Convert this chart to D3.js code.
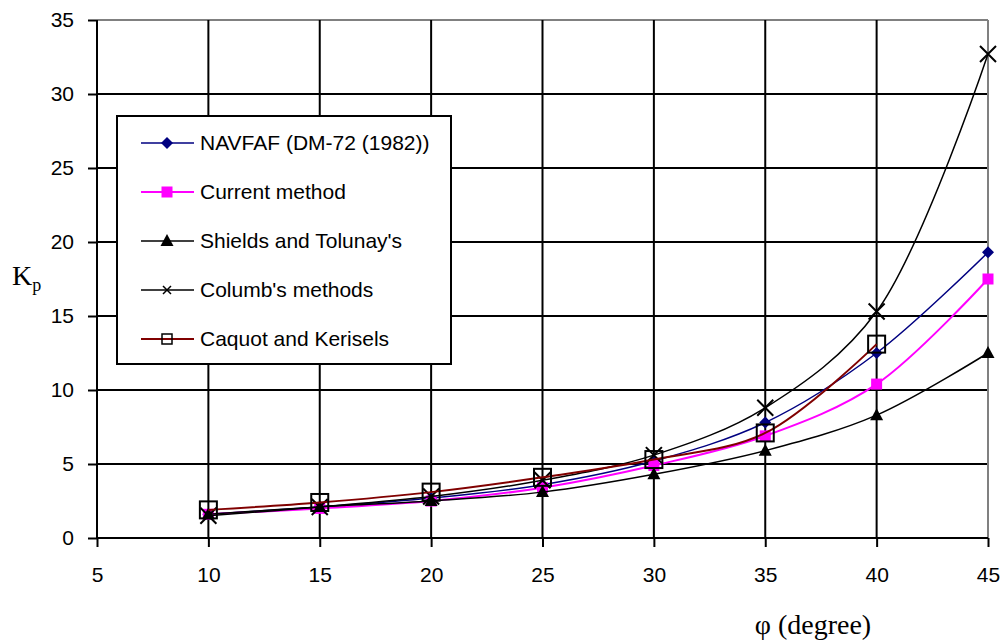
<!DOCTYPE html>
<html>
<head>
<meta charset="utf-8">
<script src="https://cdn.jsdelivr.net/npm/d3@7"></script>
<style>
  body { margin: 0; background: #fff; }
  svg { display: block; }
  text { font-family: "Liberation Sans", Arial, sans-serif; }
</style>
</head>
<body>
<svg id="chart" width="1004" height="643"></svg>
<script>
// chart data
var phi = [10, 15, 20, 25, 30, 35, 40, 45];
var navfac = [1.6, 2.1, 2.7, 3.6, 5.2, 7.8, 12.5, 19.3];
var current = [1.6, 2.0, 2.5, 3.4, 4.9, 6.9, 10.4, 17.5];
var shields = [1.6, 2.1, 2.5, 3.1, 4.3, 5.9, 8.3, 12.5];
var columb = [1.5, 2.1, 2.8, 3.9, 5.6, 8.8, 15.3, 32.7];
var caquot = [1.9, 2.4, 3.1, 4.1, 5.3, 7.1, 13.1];
var xTicks = [5, 10, 15, 20, 25, 30, 35, 40, 45];
var yTicks = [0, 5, 10, 15, 20, 25, 30, 35];

var series = [
  { name: "NAVFAF (DM-72 (1982))", values: navfac, color: "#000080", width: 1.5, marker: "diamond" },
  { name: "Current method", values: current, color: "#ff00ff", width: 2, marker: "square" },
  { name: "Shields and Tolunay's", values: shields, color: "#000000", width: 1.5, marker: "triangle" },
  { name: "Columb's methods", values: columb, color: "#000000", width: 1.5, marker: "cross" },
  { name: "Caquot and Kerisels", values: caquot, color: "#800000", width: 2, marker: "open" }
];

var svg = d3.select("#chart");
var plotLeft = 97, plotRight = 988, plotTop = 20, plotBottom = 538;

var x = d3.scaleLinear().domain([5, 45]).range([plotLeft, plotRight]);
var y = d3.scaleLinear().domain([0, 35]).range([plotBottom, plotTop]);

// grid lines
var grid = svg.append("g").attr("class", "grid");
grid.selectAll("line.h")
  .data(yTicks.filter(function (d) { return d > 0; }))
  .enter().append("line")
  .attr("x1", plotLeft).attr("x2", plotRight)
  .attr("y1", function (d) { return y(d); })
  .attr("y2", function (d) { return y(d); })
  .attr("stroke", function (d) { return d === 35 ? "#808080" : "#000"; })
  .attr("stroke-width", 2);
grid.selectAll("line.v")
  .data(xTicks.filter(function (d) { return d > 5; }))
  .enter().append("line")
  .attr("y1", plotTop).attr("y2", plotBottom)
  .attr("x1", function (d) { return x(d); })
  .attr("x2", function (d) { return x(d); })
  .attr("stroke", function (d) { return d === 45 ? "#808080" : "#000"; })
  .attr("stroke-width", 2);

// axes
var xAxis = d3.axisBottom(x).tickValues(xTicks).tickSize(9).tickPadding(20);
var yAxis = d3.axisLeft(y).tickValues(yTicks).tickSize(9).tickPadding(14);

var gx = svg.append("g").attr("transform", "translate(0," + plotBottom + ")").call(xAxis);
var gy = svg.append("g").attr("transform", "translate(" + plotLeft + ",0)").call(yAxis);
[gx, gy].forEach(function (g) {
  g.select(".domain").attr("stroke", "#000").attr("stroke-width", 2);
  g.selectAll(".tick line").attr("stroke", "#000").attr("stroke-width", 2);
  g.selectAll(".tick text")
    .attr("fill", "#000")
    .style("font-size", "21px")
    .style("font-family", "'Liberation Sans', Arial, sans-serif");
});
gx.select(".domain").attr("d", "M" + plotLeft + ",0H" + plotRight);
gy.select(".domain").attr("d", "M0," + plotTop + "V" + plotBottom);

// axis titles
var kp = svg.append("text")
  .attr("x", 12).attr("y", 285)
  .style("font-family", "'Liberation Serif', 'Times New Roman', serif")
  .style("font-size", "28px")
  .attr("fill", "#000");
kp.append("tspan").text("K");
kp.append("tspan").attr("dy", 6).style("font-size", "18px").text("p");

svg.append("text")
  .attr("x", 813).attr("y", 634)
  .attr("text-anchor", "middle")
  .style("font-family", "'Liberation Serif', 'Times New Roman', serif")
  .style("font-size", "28px")
  .attr("fill", "#000")
  .text("φ (degree)");

// markers
function drawMarker(g, type, color, cx, cy) {
  if (type === "diamond") {
    g.append("path")
      .attr("d", "M" + cx + "," + (cy - 6) + "L" + (cx + 6) + "," + cy + "L" + cx + "," + (cy + 6) + "L" + (cx - 6) + "," + cy + "Z")
      .attr("fill", color);
  } else if (type === "square") {
    g.append("rect").attr("x", cx - 5.5).attr("y", cy - 5.5)
      .attr("width", 11).attr("height", 11).attr("fill", color);
  } else if (type === "triangle") {
    g.append("path")
      .attr("d", "M" + cx + "," + (cy - 7) + "L" + (cx + 6.5) + "," + (cy + 5) + "L" + (cx - 6.5) + "," + (cy + 5) + "Z")
      .attr("fill", color);
  } else if (type === "cross") {
    g.append("path")
      .attr("d", "M" + (cx - 8) + "," + (cy - 8) + "L" + (cx + 8) + "," + (cy + 8) + "M" + (cx + 8) + "," + (cy - 8) + "L" + (cx - 8) + "," + (cy + 8))
      .attr("stroke", color).attr("stroke-width", 2).attr("fill", "none");
  } else if (type === "open") {
    g.append("rect").attr("x", cx - 8.5).attr("y", cy - 8.5)
      .attr("width", 17).attr("height", 17)
      .attr("fill", "none").attr("stroke", "#000").attr("stroke-width", 2);
  }
}

var line = d3.line()
  .x(function (d) { return x(d[0]); })
  .y(function (d) { return y(d[1]); })
  .curve(d3.curveCatmullRom.alpha(0.5));

series.forEach(function (s) {
  var pts = s.values.map(function (v, i) { return [phi[i], v]; });
  var g = svg.append("g");
  g.append("path")
    .attr("d", line(pts))
    .attr("fill", "none")
    .attr("stroke", s.color)
    .attr("stroke-width", s.width);
  var markerColor = s.marker === "open" ? "#000" : s.color;
  pts.forEach(function (p) {
    drawMarker(g, s.marker, markerColor, x(p[0]), y(p[1]));
  });
});

// legend
var legend = svg.append("g");
legend.append("rect")
  .attr("x", 117).attr("y", 116)
  .attr("width", 334).attr("height", 248)
  .attr("fill", "#fff").attr("stroke", "#000").attr("stroke-width", 2);

series.forEach(function (s, i) {
  var ly = 143 + i * 49;
  legend.append("line")
    .attr("x1", 141).attr("x2", 194)
    .attr("y1", ly).attr("y2", ly)
    .attr("stroke", s.color).attr("stroke-width", s.width);
  if (s.marker === "open") {
    legend.append("rect").attr("x", 162).attr("y", ly - 5)
      .attr("width", 10).attr("height", 10)
      .attr("fill", "none").attr("stroke", "#000").attr("stroke-width", 1.5);
  } else if (s.marker === "cross") {
    legend.append("path")
      .attr("d", "M163," + (ly - 4) + "L171," + (ly + 4) + "M171," + (ly - 4) + "L163," + (ly + 4))
      .attr("stroke", "#000").attr("stroke-width", 1.5);
  } else {
    drawMarker(legend, s.marker, s.color, 167, ly);
  }
  legend.append("text")
    .attr("x", 200).attr("y", ly + 7)
    .style("font-size", "21px")
    .attr("fill", "#000")
    .text(s.name);
});
</script>
</body>
</html>
